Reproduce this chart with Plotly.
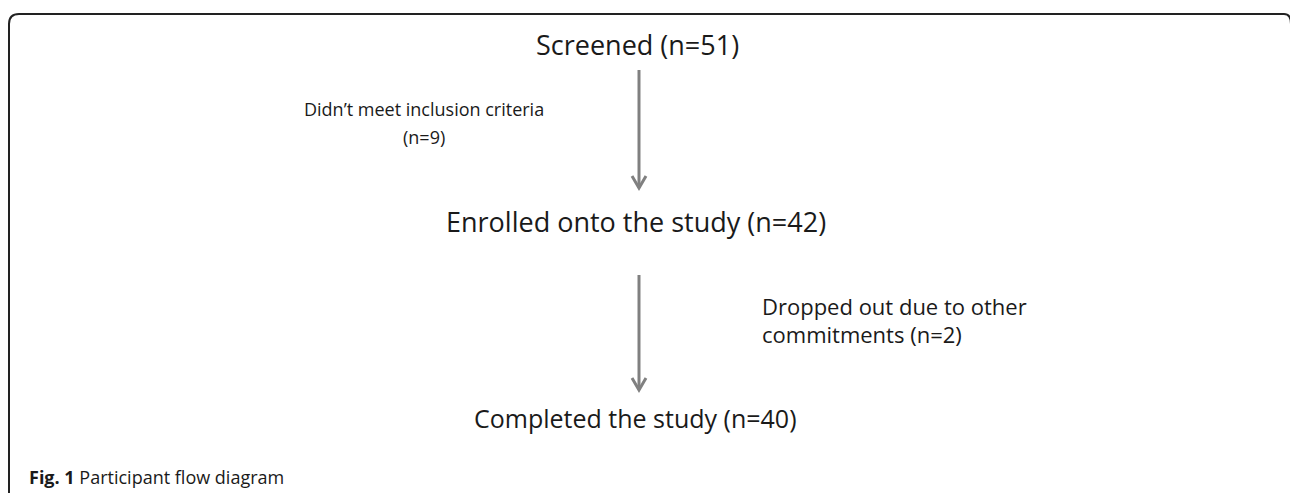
import plotly.graph_objects as go

# ---- data ----
stage_labels = ["Screened", "Enrolled onto the study", "Completed the study"]
stage_counts = [51, 42, 40]
exit_lines = [["Didn\u2019t meet inclusion criteria"], ["Dropped out due to other", "commitments"]]
exit_counts = [9, 2]
caption_bold = "Fig. 1"
caption_text = "Participant flow diagram"

# ---- layout (pixel positions / styles) ----
W, H = 1290, 493
stage_xy = [(637, 44), (636, 221), (635, 418)]
stage_sizes = [27, 27, 25]
exit_xy = [(424, 109, "center"), (760, 306, "left")]
exit_sizes = [18, 22]
line_gap = 28
arrow_x = 639
arrow_spans = [(70, 188), (275, 390)]

FONT = "Open Sans"
fig = go.Figure()

# arrows (shaft + open V head)
for (y0, y1) in arrow_spans:
    fig.add_trace(go.Scatter(x=[arrow_x, arrow_x], y=[y0, y1], mode="lines",
                             line=dict(color="#808080", width=3), hoverinfo="skip", showlegend=False))
    fig.add_trace(go.Scatter(x=[arrow_x - 7, arrow_x, arrow_x + 7], y=[y1 - 12, y1, y1 - 12], mode="lines",
                             line=dict(color="#808080", width=3), hoverinfo="skip", showlegend=False))

annotations = []
for lab, n, (x, y), fs in zip(stage_labels, stage_counts, stage_xy, stage_sizes):
    annotations.append(dict(x=x, y=y, xref="x", yref="y", text=f"{lab} (n={n})", showarrow=False,
                            xanchor="center", yanchor="middle",
                            font=dict(family=FONT, size=fs, color="#1a1a1a")))

for lines, n, (x, y, al), fs in zip(exit_lines, exit_counts, exit_xy, exit_sizes):
    if len(lines) == 1:
        rows = [lines[0], f"(n={n})"]
    else:
        rows = lines[:-1] + [f"{lines[-1]} (n={n})"]
    for i, row in enumerate(rows):
        annotations.append(dict(x=x, y=y + i * line_gap, xref="x", yref="y", text=row, showarrow=False,
                                xanchor="center" if al == "center" else "left", yanchor="middle",
                                font=dict(family=FONT, size=fs, color="#1a1a1a")))

annotations.append(dict(x=27, y=477, xref="x", yref="y",
                        text=f"<b>{caption_bold}</b> {caption_text}", showarrow=False,
                        xanchor="left", yanchor="middle",
                        font=dict(family=FONT, size=18, color="#1a1a1a")))

# rounded border (right edge runs just off the canvas)
r = 10
border = (f"M 9 {H+5} L 9 {14 + r} Q 9 14 {9 + r} 14 L 1284 14 Q 1291 14 1291 {14 + r} L 1291 {H+5}")

fig.update_layout(
    width=W, height=H,
    margin=dict(l=0, r=0, t=0, b=0),
    paper_bgcolor="white", plot_bgcolor="white",
    xaxis=dict(range=[0, W], visible=False, fixedrange=True),
    yaxis=dict(range=[H, 0], visible=False, fixedrange=True),
    annotations=annotations,
    shapes=[dict(type="path", path=border, xref="x", yref="y",
                 line=dict(color="#222222", width=2))],
    showlegend=False,
)

fig.write_html("out.html", config={"displayModeBar": False},
               post_script="document.body.style.margin='0';document.body.style.overflow='hidden';")
